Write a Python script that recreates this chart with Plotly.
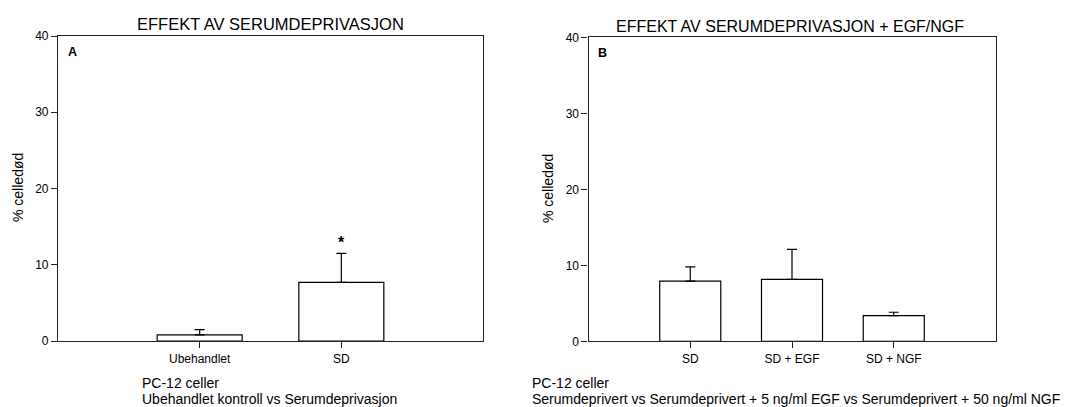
import plotly.graph_objects as go

# Panel A data
cats_a = ["Ubehandlet", "SD"]
vals_a = [0.8, 7.7]
errs_a = [0.7, 3.8]

# Panel B data
cats_b = ["SD", "SD + EGF", "SD + NGF"]
vals_b = [7.93, 8.15, 3.37]
errs_b = [1.85, 3.95, 0.45]

y_ticks = [0, 10, 20, 30, 40]

FONT = "Liberation Sans, Arial, sans-serif"

fig = go.Figure()

fig.add_trace(go.Bar(
    x=cats_a, y=vals_a, width=0.6,
    marker=dict(color="white", line=dict(color="black", width=1.2)),
    error_y=dict(type="data", array=errs_a, arrayminus=[0] * len(errs_a), symmetric=False,
                 color="black", thickness=1.2, width=5),
    xaxis="x", yaxis="y", showlegend=False,
))
fig.add_trace(go.Bar(
    x=cats_b, y=vals_b, width=0.6,
    marker=dict(color="white", line=dict(color="black", width=1.2)),
    error_y=dict(type="data", array=errs_b, arrayminus=[0] * len(errs_b), symmetric=False,
                 color="black", thickness=1.2, width=5),
    xaxis="x2", yaxis="y2", showlegend=False,
))

W, H = 1073, 407
ax_common = dict(showline=True, mirror=True, linecolor="#222", linewidth=1.2,
                 showgrid=False, zeroline=False, ticks="outside", ticklen=6,
                 tickcolor="#222", tickwidth=1, automargin=False,
                 tickfont=dict(family=FONT, size=12, color="black"))

fig.update_layout(
    template="none",
    width=W, height=H, autosize=False,
    margin=dict(l=0, r=0, t=0, b=0, pad=0, autoexpand=False),
    paper_bgcolor="white", plot_bgcolor="white",
    font=dict(family=FONT, color="black"),
    xaxis=dict(domain=[58 / W, 483 / W], anchor="y", type="category",
               range=[-1, 2], **ax_common),
    yaxis=dict(domain=[1 - 341 / H, 1 - 36 / H], anchor="x", range=[0, 40],
               tickvals=y_ticks, **ax_common),
    xaxis2=dict(domain=[588.5 / W, 995.5 / W], anchor="y2", type="category",
                range=[-1, 3], **ax_common),
    yaxis2=dict(domain=[1 - 341.3 / H, 1 - 37.3 / H], anchor="x2", range=[0, 40],
                tickvals=y_ticks, **ax_common),
)

ann = []
# titles
ann.append(dict(text="EFFEKT AV SERUMDEPRIVASJON", x=270 / W, y=1 - 23.5 / H, xref="paper", yref="paper",
                showarrow=False, font=dict(size=16.5, family=FONT), xanchor="center", yanchor="middle"))
ann.append(dict(text="EFFEKT AV SERUMDEPRIVASJON + EGF/NGF", x=790 / W, y=1 - 26.5 / H, xref="paper", yref="paper",
                showarrow=False, font=dict(size=16, family=FONT), xanchor="center", yanchor="middle"))
# panel letters
ann.append(dict(text="<b>A</b>", x=66 / W, y=1 - 52 / H, xref="paper", yref="paper",
                showarrow=False, font=dict(size=12.5, family=FONT), xanchor="left", yanchor="middle"))
ann.append(dict(text="<b>B</b>", x=596 / W, y=1 - 53 / H, xref="paper", yref="paper",
                showarrow=False, font=dict(size=12.5, family=FONT), xanchor="left", yanchor="middle"))
# y axis titles
ann.append(dict(text="% celledød", x=18 / W, y=1 - 188 / H, xref="paper", yref="paper", textangle=-90,
                showarrow=False, font=dict(size=14, family=FONT), xanchor="center", yanchor="middle"))
ann.append(dict(text="% celledød", x=548 / W, y=1 - 189 / H, xref="paper", yref="paper", textangle=-90,
                showarrow=False, font=dict(size=14, family=FONT), xanchor="center", yanchor="middle"))
# significance star
ann.append(dict(text="<b>*</b>", x="SD", y=vals_a[1] + errs_a[1], xref="x", yref="y",
                showarrow=False, font=dict(size=16, family=FONT), xanchor="center", yanchor="bottom", yshift=0))
# captions
caption_a = ["PC-12 celler", "Ubehandlet kontroll vs Serumdeprivasjon"]
caption_b = ["PC-12 celler", "Serumdeprivert vs Serumdeprivert + 5 ng/ml EGF vs Serumdeprivert + 50 ng/ml NGF"]
for i, (ta, tb) in enumerate(zip(caption_a, caption_b)):
    yy = 1 - (382.7 + 16.3 * i) / H
    ann.append(dict(text=ta, x=140 / W, y=yy, xref="paper", yref="paper", showarrow=False,
                    font=dict(size=14, family=FONT), xanchor="left", yanchor="middle"))
    ann.append(dict(text=tb, x=530 / W, y=yy, xref="paper", yref="paper", showarrow=False,
                    font=dict(size=14, family=FONT), xanchor="left", yanchor="middle"))
fig.update_layout(annotations=ann)

fig.write_html(
    "out.html",
    config={"responsive": False, "displayModeBar": False},
    post_script="document.body.style.margin='0';document.body.style.overflow='hidden';",
)
